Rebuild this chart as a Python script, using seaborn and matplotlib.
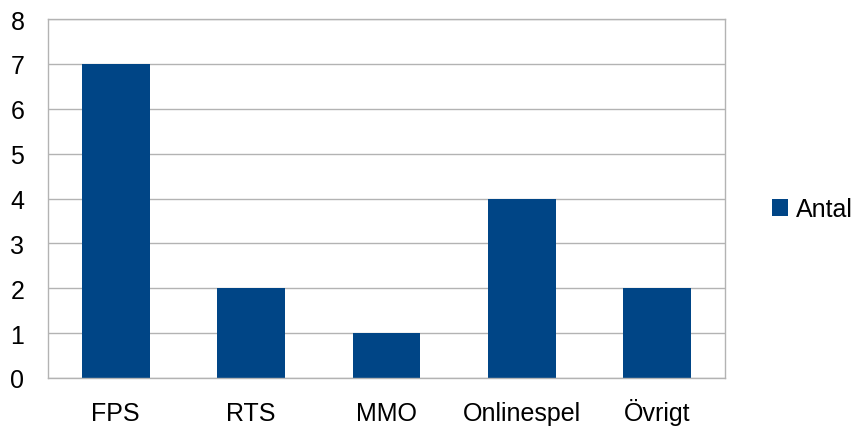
import numpy as np
import seaborn as sns
import matplotlib.pyplot as plt
from matplotlib.ticker import FixedLocator

# | Data |-------------------------------------------------------------------------------------------------------------|
categories = ["FPS", "RTS", "MMO", "Onlinespel", "Övrigt"]
antal = [7, 2, 1, 4, 2]
y_ticks = [0, 1, 2, 3, 4, 5, 6, 7, 8]
series_name = "Antal"
# |--------------------------------------------------------------------------------------------------------------------|

sns.set_style("white")
plt.rcParams['font.family'] = ['Liberation Sans', 'DejaVu Sans']
plt.rcParams['text.color'] = "black"
plt.rcParams['xtick.color'] = "black"
plt.rcParams['ytick.color'] = "black"

bar_color = "#004586"
grid_color = "#b3b3b3"
font_size = 18

fig = plt.figure(figsize=(8.57, 4.27), dpi=100)
ax = fig.add_axes([48 / 857, 48 / 427, (725 - 48) / 857, (379 - 20) / 427])

sns.barplot(x=categories, y=antal, color=bar_color, width=0.5, ax=ax,
            label=series_name, saturation=1, linewidth=0)

ax.set_xlim(-0.5, len(categories) - 0.5)
ax.set_ylim(0, 8)
ax.set_yticks(y_ticks)
ax.yaxis.grid(True, color=grid_color, linewidth=1)
ax.set_axisbelow(True)

# x ticks at category boundaries, labels at centers
ax.xaxis.set_major_locator(FixedLocator(np.arange(-0.5, len(categories), 1.0)))
ax.xaxis.set_minor_locator(FixedLocator(np.arange(len(categories))))
ax.set_xticklabels([""] * (len(categories) + 1))
ax.set_xticklabels(categories, minor=True, va="baseline")
ax.tick_params(axis="x", which="major", length=11, width=1, color=grid_color, direction="out")
ax.tick_params(axis="x", which="minor", length=0, labelsize=font_size, pad=30, labelcolor="black")
ax.tick_params(axis="y", length=12, width=1, color=grid_color, labelsize=font_size, pad=5,
               labelcolor="black")

for side in ["left", "bottom", "right", "top"]:
    ax.spines[side].set_visible(True)
    ax.spines[side].set_color(grid_color)
    ax.spines[side].set_linewidth(1)

ax.set_xlabel("")
ax.set_ylabel("")

ax.legend(loc="center left", bbox_to_anchor=(772 / 857, 1 - 210 / 427), bbox_transform=fig.transFigure,
          frameon=False, fontsize=font_size, handlelength=0.65, handleheight=0.65, handletextpad=0.3,
          borderaxespad=0, borderpad=0)

fig.savefig("out.png", dpi=100)
